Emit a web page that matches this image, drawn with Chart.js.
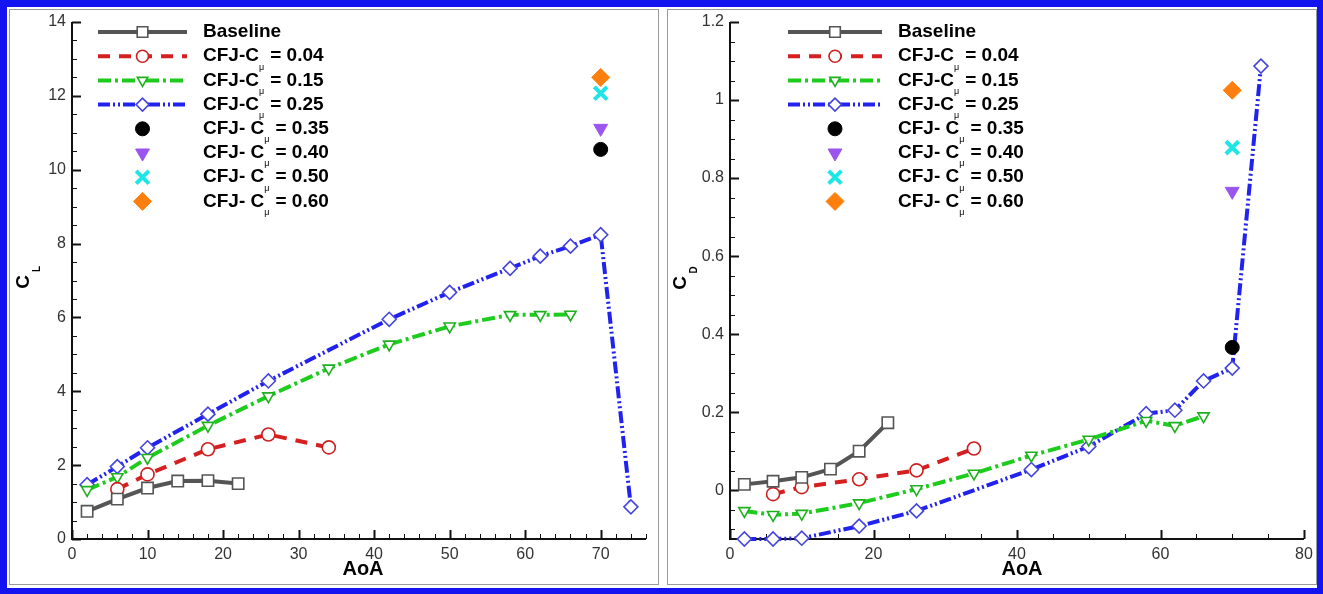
<!DOCTYPE html>
<html>
<head>
<meta charset="utf-8">
<title>CL / CD vs AoA</title>
<script src="https://cdn.jsdelivr.net/npm/chart.js@4.4.1/dist/chart.umd.min.js"></script>
<style>
  html, body { margin: 0; padding: 0; background: #fff; }
  #frame { position: absolute; left: 0; top: 0; width: 1323px; height: 594px; box-sizing: border-box;
           border: 6px solid #1414f0; border-top-width: 7px; border-left-width: 7px; background: #fff; }
  .panel { position: absolute; top: 9px; width: 650px; height: 576px; box-sizing: border-box; border: 1px solid #9a9a9a; }
  canvas { position: absolute; top: 9px; }
</style>
</head>
<body>
<div id="frame"></div>
<div class="panel" style="left:9px"></div>
<div class="panel" style="left:667px"></div>
<canvas id="cl" width="649" height="575" style="left:10px"></canvas>
<canvas id="cd" width="649" height="575" style="left:668px"></canvas>
<script>
// angle of attack for each series
const aoaBase = [2, 6, 10, 14, 18, 22];
const aoaC004 = [6, 10, 18, 26, 34];
const aoaC015 = [2, 6, 10, 18, 26, 34, 42, 50, 58, 62, 66];
const aoaC025 = [2, 6, 10, 18, 26, 42, 50, 58, 62, 66, 70, 74];
const aoaSingle = 70; // Cmu 0.35 .. 0.60 were only run at 70 deg

// lift coefficient
const clBase = [0.75, 1.08, 1.38, 1.57, 1.58, 1.5];
const clC004 = [1.35, 1.75, 2.43, 2.83, 2.48];
const clC015 = [1.33, 1.68, 2.2, 3.07, 3.87, 4.62, 5.27, 5.76, 6.07, 6.07, 6.08];
const clC025 = [1.47, 1.96, 2.47, 3.38, 4.28, 5.95, 6.68, 7.33, 7.66, 7.93, 8.24, 0.87];
const clSingle = [10.55, 11.12, 12.07, 12.5];

// drag coefficient
const cdBase = [0.015, 0.023, 0.033, 0.054, 0.1, 0.173];
const cdC004 = [-0.01, 0.008, 0.028, 0.051, 0.107];
const cdC015 = [-0.053, -0.063, -0.06, -0.033, 0.003, 0.043, 0.089, 0.13, 0.178, 0.165, 0.19];
const cdC025 = [-0.125, -0.125, -0.123, -0.092, -0.053, 0.053, 0.112, 0.196, 0.205, 0.28, 0.313, 1.087];
const cdSingle = [0.366, 0.766, 0.878, 1.025];

const cmuLabels = ['0.04', '0.15', '0.25', '0.35', '0.40', '0.50', '0.60'];

const clTicksX = [0, 10, 20, 30, 40, 50, 60, 70];
const clTicksY = [0, 2, 4, 6, 8, 10, 12, 14];
const cdTicksX = [0, 20, 40, 60, 80];
const cdTicksY = [0, 0.2, 0.4, 0.6, 0.8, 1, 1.2];

const FONT = '"Liberation Sans", Arial, Helvetica, sans-serif';

// look of the four curves and the four single points
const lineStyles = [
  { color: '#555555', marker: '#555555', dash: [], point: 'rect', radius: 8, rot: 0 },
  { color: '#d42020', marker: '#cc2020', dash: [12, 9], point: 'circle', radius: 6.5, rot: 0 },
  { color: '#1ecc1e', marker: '#1eb01e', dash: [13, 4, 3, 4], point: 'triangle', radius: 6.5, rot: 180 },
  { color: '#2222ee', marker: '#4545dd', dash: [12, 3, 2, 3, 2, 3], point: 'rectRot', radius: 7, rot: 0 }
];
const dotStyles = [
  { color: '#000000', point: 'circle', radius: 7, rot: 0, width: 1 },
  { color: '#9b55ee', point: 'triangle', radius: 8, rot: 180, width: 1 },
  { color: '#1ee6e6', point: 'crossRot', radius: 9, rot: 0, width: 4 },
  { color: '#ff7f0e', point: 'rectRot', radius: 9, rot: 0, width: 1 }
];

function pts(xs, ys) {
  return xs.map((x, i) => ({ x: x, y: ys[i] }));
}

function lineDataset(label, xs, ys, s) {
  return {
    label: label,
    data: pts(xs, ys),
    borderColor: s.color,
    borderWidth: 4,
    borderDash: s.dash,
    pointStyle: s.point,
    pointRadius: s.radius,
    pointRotation: s.rot,
    pointBorderColor: s.marker,
    pointBackgroundColor: '#ffffff',
    pointBorderWidth: 1.6,
    showLine: true,
    tension: 0,
    fill: false,
    clip: false,
    order: 2
  };
}

function dotDataset(label, y, s) {
  return {
    label: label,
    data: [{ x: aoaSingle, y: y }],
    showLine: false,
    pointStyle: s.point,
    pointRadius: s.radius,
    pointRotation: s.rot,
    pointBorderColor: s.color,
    pointBackgroundColor: s.color,
    pointBorderWidth: s.width,
    clip: false,
    order: 0
  };
}

function buildDatasets(base, c004, c015, c025, single) {
  const sets = [
    lineDataset('Baseline', aoaBase, base, lineStyles[0]),
    lineDataset('CFJ-C\u03bc = ' + cmuLabels[0], aoaC004, c004, lineStyles[1]),
    lineDataset('CFJ-C\u03bc = ' + cmuLabels[1], aoaC015, c015, lineStyles[2]),
    lineDataset('CFJ-C\u03bc = ' + cmuLabels[2], aoaC025, c025, lineStyles[3])
  ];
  single.forEach((v, i) => sets.push(dotDataset('CFJ- C\u03bc = ' + cmuLabels[i + 3], v, dotStyles[i])));
  return sets;
}

// Tecplot-like axes: only left/bottom lines, ticks pointing inwards
function axesPlugin(xMajor, xMinor, yMajor, yMinor) {
  return {
    id: 'tecAxes',
    beforeDatasetsDraw(chart) {
      const { ctx, chartArea, scales } = chart;
      const { left, right, top, bottom } = chartArea;
      const isMajor = (v, step) => Math.abs(v / step - Math.round(v / step)) < 1e-6;
      ctx.save();
      ctx.strokeStyle = '#111';
      ctx.lineWidth = 2;
      ctx.beginPath();
      ctx.moveTo(left, top);
      ctx.lineTo(left, bottom);
      ctx.lineTo(right, bottom);
      ctx.stroke();

      const xs = scales.x;
      for (let i = Math.ceil(xs.min / xMinor - 1e-9); i * xMinor <= xs.max + 1e-9; i++) {
        const v = i * xMinor;
        const px = Math.round(xs.getPixelForValue(v)) + 0.5;
        const major = isMajor(v, xMajor);
        ctx.lineWidth = major ? 2 : 1;
        ctx.beginPath();
        ctx.moveTo(px, bottom);
        ctx.lineTo(px, bottom - (major ? 9 : 5));
        ctx.stroke();
      }
      const ys = scales.y;
      for (let i = Math.ceil(ys.min / yMinor - 1e-9); i * yMinor <= ys.max + 1e-9; i++) {
        const v = i * yMinor;
        const py = Math.round(ys.getPixelForValue(v)) + 0.5;
        const major = isMajor(v, yMajor);
        ctx.lineWidth = major ? 2 : 1;
        ctx.beginPath();
        ctx.moveTo(left, py);
        ctx.lineTo(left + (major ? 9 : 5), py);
        ctx.stroke();
      }
      ctx.restore();
    }
  };
}

// legend with the mu subscript, and the axis titles
function legendPlugin(lineX0, lineX1, textX, rowY, yTitle, sub, yTitlePos, xTitlePos) {
  return {
    id: 'tecLegend',
    afterDraw(chart) {
      const ctx = chart.ctx;
      const sets = chart.data.datasets;
      ctx.save();
      sets.forEach((ds, i) => {
        const y = rowY + i * 24.2;
        const mx = (lineX0 + lineX1) / 2;
        if (ds.showLine) {
          ctx.strokeStyle = ds.borderColor;
          ctx.lineWidth = ds.borderWidth;
          ctx.setLineDash(ds.borderDash);
          ctx.beginPath();
          ctx.moveTo(lineX0, y);
          ctx.lineTo(lineX1, y);
          ctx.stroke();
          ctx.setLineDash([]);
        }
        ctx.strokeStyle = ds.pointBorderColor;
        ctx.fillStyle = ds.pointBackgroundColor;
        ctx.lineWidth = ds.pointBorderWidth;
        Chart.helpers.drawPoint(ctx, {
          pointStyle: ds.pointStyle,
          rotation: ds.pointRotation,
          radius: ds.showLine ? ds.pointRadius - 0.5 : ds.pointRadius,
          borderWidth: ds.pointBorderWidth
        }, mx, y);

        ctx.fillStyle = '#000';
        ctx.textBaseline = 'middle';
        ctx.textAlign = 'left';
        ctx.font = 'bold 19px ' + FONT;
        const parts = ds.label.split('\u03bc');
        ctx.fillText(parts[0], textX, y);
        if (parts.length > 1) {
          const w = ctx.measureText(parts[0]).width;
          ctx.font = '9px ' + FONT;
          ctx.fillText('\u03bc', textX + w, y + 11);
          ctx.font = 'bold 19px ' + FONT;
          ctx.fillText(parts[1], textX + w + 6, y);
        }
      });

      // y title, rotated, with subscript
      ctx.translate(yTitlePos[0], yTitlePos[1]);
      ctx.rotate(-Math.PI / 2);
      ctx.textAlign = 'center';
      ctx.textBaseline = 'middle';
      ctx.font = 'bold 19px ' + FONT;
      ctx.fillText(yTitle, 0, 0);
      ctx.font = 'bold 10px ' + FONT;
      ctx.fillText(sub, 13, 13);
      ctx.setTransform(1, 0, 0, 1, 0, 0);

      ctx.font = 'bold 20px ' + FONT;
      ctx.fillText('AoA', xTitlePos[0], xTitlePos[1]);
      ctx.restore();
    }
  };
}

function makeChart(id, datasets, xMax, yMin, yMax, ticksX, ticksY, pad, plugins) {
  return new Chart(document.getElementById(id), {
    type: 'line',
    data: { datasets: datasets },
    options: {
      responsive: false,
      animation: false,
      events: [],
      layout: { padding: pad },
      plugins: { legend: { display: false }, tooltip: { enabled: false } },
      scales: {
        x: {
          type: 'linear',
          min: 0,
          max: xMax,
          grid: { display: false, drawTicks: false },
          border: { display: false },
          afterBuildTicks: (s) => { s.ticks = ticksX.map(v => ({ value: v })); },
          afterFit: (s) => { s.height = 45; s.paddingLeft = 0; s.paddingRight = 0; },
          ticks: { autoSkip: false, maxRotation: 0, padding: 6, color: '#333', font: { family: FONT, size: 16 } }
        },
        y: {
          type: 'linear',
          min: yMin,
          max: yMax,
          grid: { display: false, drawTicks: false },
          border: { display: false },
          afterBuildTicks: (s) => { s.ticks = ticksY.map(v => ({ value: v })); },
          afterFit: (s) => { s.width = 62; s.paddingTop = 0; s.paddingBottom = 0; },
          ticks: {
            autoSkip: false,
            padding: 6,
            color: '#333',
            font: { family: FONT, size: 16 },
            callback: (v) => String(+Number(v).toFixed(2))
          }
        }
      }
    },
    plugins: plugins
  });
}

makeChart('cl', buildDatasets(clBase, clC004, clC015, clC025, clSingle),
  76, 0, 14, clTicksX, clTicksY,
  { top: 8, right: 6, left: 0, bottom: 0 },
  [axesPlugin(10, 2, 2, 0.5), legendPlugin(88, 177, 193, 23, 'C', 'L', [14, 273], [353, 560])]);

makeChart('cd', buildDatasets(cdBase, cdC004, cdC015, cdC025, cdSingle),
  80, -0.125, 1.2, cdTicksX, cdTicksY,
  { top: 6, right: 8, left: 0, bottom: 0 },
  [axesPlugin(20, 5, 0.2, 0.05), legendPlugin(120, 214, 230, 23, 'C', 'D', [13, 274], [354, 560])]);
</script>
</body>
</html>
